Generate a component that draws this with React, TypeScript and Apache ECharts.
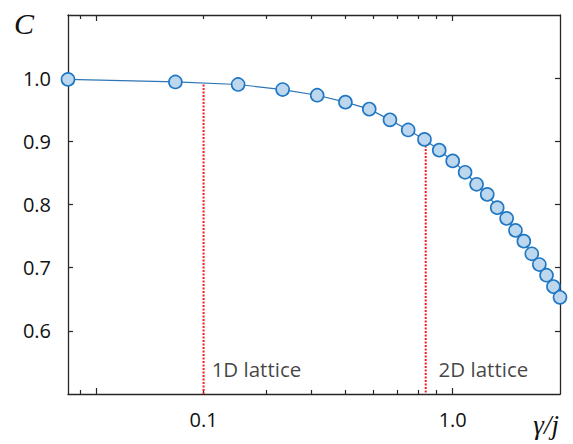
import React, { useEffect, useRef } from "react";
import * as echarts from "echarts";

// x values (γ/j) and coherence values
const gammaOverJ = [
  0.0833, 0.1667, 0.25, 0.3333, 0.4167, 0.5, 0.5833, 0.6667, 0.75, 0.8333, 0.9167, 1.0,
  1.0833, 1.1667, 1.25, 1.3333, 1.4167, 1.5, 1.5833, 1.6667, 1.75, 1.8333, 1.9167, 2.0,
];
const coherence = [
  0.998, 0.994, 0.99, 0.982, 0.973, 0.962, 0.951, 0.934, 0.918, 0.903, 0.886, 0.869,
  0.851, 0.832, 0.816, 0.795, 0.778, 0.759, 0.742, 0.722, 0.705, 0.688, 0.67, 0.653,
];

const xMin = 0.0833;
const xMax = 2.0;
const yMin = 0.5;
const yMax = 1.1;

const xMinorTicks = [0.09, 0.2, 0.3, 0.4, 0.5, 0.6, 0.7, 0.8, 0.9];
const xMajorTicks = [0.1, 1.0];
const xLabelPositions = [0.2, 1.0];
const xLabelTexts = ["0.1", "1.0"];
const yTicks = [0.6, 0.7, 0.8, 0.9, 1.0];

const markerNames = ["1D lattice", "2D lattice"];
const markerX = [0.2, 0.84];
const markerTopY = [0.99, 0.899];
const markerLabelX = [0.21, 0.91];
const markerLabelY = 0.54;

const lg = (v: number) => Math.log10(v);

const AXIS_COLOR = "#262626";
const FONT = "'Open Sans', 'Noto Sans', sans-serif";

export default function App() {
  const ref = useRef<HTMLDivElement>(null);

  useEffect(() => {
    if (!ref.current) return;
    const chart = echarts.init(ref.current, undefined, { renderer: "svg" });

    const xBase = {
      type: "value" as const,
      min: lg(xMin),
      max: lg(xMax),
      splitLine: { show: false },
    };
    const yBase = {
      type: "value" as const,
      min: yMin,
      max: yMax,
      splitLine: { show: false },
    };
    const line = (show: boolean) => ({
      show,
      onZero: false,
      lineStyle: { color: AXIS_COLOR, width: 1.3 },
    });
    const tick = (length: number, values: number[]) => ({
      show: true,
      inside: true,
      length,
      lineStyle: { color: AXIS_COLOR, width: 1.2 },
      customValues: values,
    });

    const xFormatter = (v: number) => {
      const i = xLabelPositions.findIndex((p) => Math.abs(lg(p) - v) < 1e-6);
      return i >= 0 ? xLabelTexts[i] : "";
    };

    const option: any = {
      animation: false,
      backgroundColor: "#ffffff",
      title: [
        {
          text: "C",
          left: 9,
          top: 3,
          textStyle: {
            fontFamily: "'Liberation Serif', serif",
            fontStyle: "italic",
            fontWeight: "normal",
            fontSize: 30,
            color: "#111",
          },
        },
        {
          text: "γ/j",
          right: 9,
          top: 406,
          textStyle: {
            fontFamily: "'Liberation Serif', serif",
            fontStyle: "italic",
            fontWeight: "normal",
            fontSize: 27,
            color: "#111",
          },
        },
      ],
      grid: { left: 68, right: 13, top: 15, bottom: 50, containLabel: false },
      xAxis: [
        {
          ...xBase,
          position: "bottom",
          axisLine: line(true),
          axisTick: tick(4, xMinorTicks.map(lg)),
          axisLabel: {
            show: true,
            margin: 15,
            fontSize: 20,
            fontFamily: FONT,
            color: "#111",
            customValues: xLabelPositions.map(lg),
            formatter: xFormatter,
          },
        },
        {
          ...xBase,
          position: "bottom",
          axisLine: line(false),
          axisTick: tick(6, xMajorTicks.map(lg)),
          axisLabel: { show: false },
        },
        {
          ...xBase,
          position: "top",
          axisLine: line(true),
          axisTick: tick(4, xMinorTicks.map(lg)),
          axisLabel: { show: false },
        },
        {
          ...xBase,
          position: "top",
          axisLine: line(false),
          axisTick: tick(6, xMajorTicks.map(lg)),
          axisLabel: { show: false },
        },
      ],
      yAxis: [
        {
          ...yBase,
          position: "left",
          axisLine: line(true),
          axisTick: tick(5, yTicks),
          axisLabel: {
            show: true,
            margin: 17,
            fontSize: 20,
            fontFamily: FONT,
            color: "#111",
            customValues: yTicks,
            formatter: (v: number) => v.toFixed(1),
          },
        },
        {
          ...yBase,
          position: "right",
          axisLine: line(true),
          axisTick: tick(5, yTicks),
          axisLabel: { show: false },
        },
      ],
      series: [
        ...markerNames.map((name, i) => ({
          name,
          type: "line",
          xAxisIndex: 0,
          yAxisIndex: 0,
          symbol: "none",
          silent: true,
          z: 2,
          lineStyle: { color: "#ff1a1a", width: 2, type: [2, 1.5] },
          data: [
            [lg(markerX[i]), markerTopY[i]],
            [lg(markerX[i]), yMin],
          ],
        })),
        {
          name: "coherence",
          type: "line",
          xAxisIndex: 0,
          yAxisIndex: 0,
          clip: false,
          z: 4,
          symbol: "circle",
          symbolSize: 13,
          lineStyle: { color: "#2e75b6", width: 1.2 },
          itemStyle: { color: "#bdd7ee", borderColor: "#1f77c4", borderWidth: 1.6 },
          data: gammaOverJ.map((x, i) => [lg(x), coherence[i]]),
        },
        {
          name: "labels",
          type: "scatter",
          xAxisIndex: 0,
          yAxisIndex: 0,
          symbolSize: 1,
          itemStyle: { color: "rgba(0,0,0,0)" },
          silent: true,
          label: {
            show: true,
            position: "right",
            distance: 0,
            formatter: "{b}",
            fontSize: 20.5,
            fontFamily: FONT,
            color: "#111",
          },
          data: markerNames.map((name, i) => ({
            name,
            value: [lg(markerLabelX[i]), markerLabelY],
          })),
        },
      ],
    };

    chart.setOption(option);
    return () => chart.dispose();
  }, []);

  return (
    <div
      ref={ref}
      style={{ position: "fixed", left: 0, top: 0, width: 573, height: 444, background: "#fff" }}
    />
  );
}
